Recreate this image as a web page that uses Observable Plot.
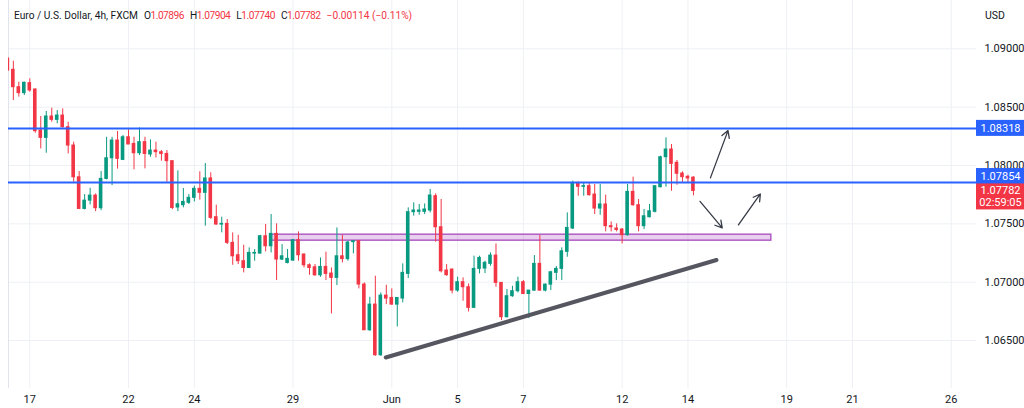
<!DOCTYPE html>
<html><head><meta charset="utf-8">
<script src="https://cdn.jsdelivr.net/npm/d3@7"></script>
<script src="https://cdn.jsdelivr.net/npm/@observablehq/plot@0.6"></script>
<style>
body{margin:0;background:#fff;font-family:Roboto,"Noto Sans",sans-serif;}
#wrap{position:relative;width:1024px;height:408px;overflow:hidden;background:#fff;}
#hdr{position:absolute;left:14px;top:9px;font-size:10.2px;color:#131722;white-space:nowrap;display:flex;gap:6px;line-height:13px;}
#hdr .k{letter-spacing:-0.5px}
#hdr .v{color:#F23645}
#usd{position:absolute;left:985px;top:9px;font-size:10.5px;line-height:13px;color:#131722}
</style></head><body>
<div id="wrap"><div id="chart"></div><div id="hdr"></div><div id="usd">USD</div></div>
<script>
// ---- data (4h candles, index = bar number) ----
const openP = [1.08914,1.08820,1.08671,1.08620,1.08706,1.08651,1.08300,1.08237,1.08420,1.08391,
1.08428,1.08328,1.08171,1.07899,1.07628,1.07699,1.07742,1.07634,1.07885,1.08062,
1.08214,1.08048,1.08242,1.08185,1.08105,1.08200,1.08094,1.08128,1.08114,1.08099,
1.08037,1.07640,1.07660,1.07680,1.07723,1.07800,1.07766,1.07889,1.07557,1.07494,
1.07500,1.07337,1.07231,1.07180,1.07122,1.07245,1.07245,1.07394,1.07308,1.07414,
1.07194,1.07165,1.07185,1.07360,1.07237,1.07145,1.07128,1.07059,1.07131,1.07074,
1.07037,1.07222,1.07198,1.07343,1.07351,1.06980,1.06588,1.06808,1.06374,1.06885,
1.06865,1.06808,1.06860,1.07071,1.07600,1.07603,1.07603,1.07614,1.07737,1.07471,
1.07100,1.07108,1.06928,1.07000,1.06957,1.06780,1.07114,1.07117,1.07157,1.07228,
1.06994,1.06700,1.06880,1.06923,1.07000,1.06899,1.06928,1.07157,1.06928,1.06979,
1.07080,1.07114,1.07260,1.07460,1.07851,1.07817,1.07823,1.07751,1.07631,1.07666,
1.07480,1.07460,1.07451,1.07403,1.07774,1.07660,1.07480,1.07557,1.07603,1.07814,
1.08071,1.08137,1.08023,1.07931,1.07903,1.07896];
const highP = [1.08928,1.08894,1.08714,1.08714,1.08743,1.08657,1.08420,1.08463,1.08491,1.08471,
1.08485,1.08371,1.08200,1.07948,1.07751,1.07805,1.07756,1.07948,1.08242,1.08242,
1.08291,1.08257,1.08305,1.08242,1.08322,1.08242,1.08220,1.08200,1.08128,1.08128,
1.08042,1.07954,1.07803,1.07751,1.07823,1.07946,1.08017,1.07937,1.07660,1.07557,
1.07537,1.07423,1.07402,1.07317,1.07294,1.07280,1.07402,1.07494,1.07580,1.07500,
1.07322,1.07280,1.07366,1.07431,1.07242,1.07157,1.07151,1.07208,1.07257,1.07122,
1.07465,1.07402,1.07351,1.07357,1.07357,1.06994,1.06871,1.07051,1.06908,1.06974,
1.06943,1.06865,1.07157,1.07637,1.07680,1.07666,1.07671,1.07794,1.07757,1.07709,
1.07151,1.07114,1.07043,1.07037,1.06985,1.07223,1.07223,1.07180,1.07251,1.07328,
1.06994,1.06937,1.06965,1.07043,1.07014,1.06928,1.07228,1.07400,1.06985,1.07094,
1.07134,1.07294,1.07594,1.07866,1.07857,1.07851,1.07851,1.07837,1.07837,1.07746,
1.07517,1.07500,1.07460,1.07837,1.07900,1.07708,1.07623,1.07666,1.07823,1.08080,
1.08237,1.08180,1.08043,1.07946,1.07917,1.07904];
const lowP = [1.08805,1.08557,1.08586,1.08600,1.08628,1.08277,1.08142,1.08105,1.08371,1.08357,
1.08322,1.08099,1.07856,1.07622,1.07619,1.07662,1.07605,1.07613,1.07877,1.07828,
1.07969,1.08042,1.08180,1.07963,1.08085,1.07971,1.08071,1.08065,1.08037,1.07856,
1.07622,1.07605,1.07637,1.07666,1.07688,1.07703,1.07480,1.07537,1.07488,1.07423,
1.07323,1.07145,1.07151,1.07080,1.07117,1.07180,1.07242,1.07260,1.07251,1.07014,
1.07185,1.07157,1.07180,1.07180,1.07122,1.07059,1.07051,1.07042,1.07014,1.06728,
1.06971,1.07165,1.07180,1.07243,1.06943,1.06588,1.06579,1.06365,1.06365,1.06808,
1.06802,1.06617,1.06823,1.07031,1.07566,1.07574,1.07580,1.07594,1.07343,1.07080,
1.07051,1.06900,1.06914,1.06837,1.06745,1.06780,1.07071,1.07074,1.07137,1.06957,
1.06671,1.06694,1.06871,1.06908,1.06894,1.06688,1.06922,1.06922,1.06917,1.06928,
1.07014,1.07014,1.07214,1.07451,1.07737,1.07737,1.07737,1.07580,1.07574,1.07431,
1.07431,1.07431,1.07328,1.07394,1.07651,1.07431,1.07451,1.07551,1.07594,1.07808,
1.07814,1.07780,1.07831,1.07857,1.07851,1.07740];
const closeP = [1.08814,1.08671,1.08620,1.08709,1.08643,1.08294,1.08237,1.08420,1.08391,1.08428,
1.08328,1.08171,1.07899,1.07628,1.07699,1.07742,1.07634,1.07885,1.08062,1.08214,
1.08057,1.08242,1.08180,1.08105,1.08200,1.08099,1.08128,1.08114,1.08099,1.08037,
1.07636,1.07668,1.07688,1.07723,1.07800,1.07766,1.07889,1.07551,1.07494,1.07500,
1.07337,1.07222,1.07180,1.07122,1.07251,1.07251,1.07394,1.07308,1.07414,1.07194,
1.07222,1.07200,1.07360,1.07231,1.07145,1.07122,1.07059,1.07131,1.07071,1.07037,
1.07222,1.07198,1.07340,1.07351,1.06980,1.06588,1.06808,1.06374,1.06885,1.06860,
1.06808,1.06865,1.07080,1.07600,1.07614,1.07614,1.07623,1.07743,1.07471,1.07094,
1.07060,1.06928,1.07000,1.06957,1.06780,1.07114,1.07208,1.07166,1.07228,1.06994,
1.06700,1.06880,1.06923,1.07000,1.06899,1.06928,1.07157,1.06928,1.06979,1.07085,
1.07114,1.07265,1.07465,1.07851,1.07817,1.07823,1.07746,1.07631,1.07666,1.07480,
1.07471,1.07448,1.07403,1.07774,1.07660,1.07480,1.07565,1.07608,1.07823,1.08071,
1.08137,1.08014,1.07929,1.07900,1.07889,1.07782];

// x-axis: bar index where each day starts, and its label
const dayTicks  = [4, 22, 34, 52, 70, 82, 94, 112, 124, 142, 154, 172];
const dayLabels = ["17","22","24","29","Jun","5","7","12","14","19","21","26"];
// price axis ticks
const priceTicks = [1.09, 1.085, 1.08, 1.075, 1.07, 1.065];
// horizontal levels
const levels = [1.08318, 1.07854];
// support zone (bar index range, price range)
const zoneI = [47.9, 139.2];
const zoneP = [1.07356, 1.07407];
// rising trend line
const trendI = [68.9, 129.2];
const trendP = [1.06355, 1.07190];
// arrows: start/end (bar index, price)
const arrowI1 = [128.1, 126.2, 133.2];
const arrowP1 = [1.07894, 1.07693, 1.07491];
const arrowI2 = [131.3, 130.25, 137.2];
const arrowP2 = [1.08299, 1.07465, 1.07756];
// price scale labels
const tagPrices = [1.08318, 1.07854, 1.07782];
const lastClose = 1.07782;
const countdown = "02:59:05";
// header
const title = "Euro / U.S. Dollar, 4h, FXCM";
const ohlcKeys = ["O","H","L","C"];
const ohlcVals = ["1.07896","1.07904","1.07740","1.07782"];
const change = "\u22120.00114 (\u22120.11%)";

// ---- build ----
const bars = openP.map((o, i) => ({i, o, h: highP[i], l: lowP[i], c: closeP[i]}));
const ups = bars.filter(d => d.c >= d.o);
const downs = bars.filter(d => d.c < d.o);
const zone = [{i1: zoneI[0], i2: zoneI[1], p1: zoneP[0], p2: zoneP[1]}];
const trend = trendI.map((i, k) => ({i, p: trendP[k]}));
const arrows = arrowI1.map((d, k) => ({i1: d, p1: arrowP1[k], i2: arrowI2[k], p2: arrowP2[k]}));
const labelMap = new Map(dayTicks.map((d, k) => [d, dayLabels[k]]));

const GREEN = "#089981", RED = "#F23645", BLUE = "#2962FF";
const W = 1024, H = 408, ML = 8, MR = 48, MT = 0, MB = 20;
const plotW = W - ML - MR;
const xDomain = [0.117, 176.61];
const yDomain = [1.060891, 1.094139];
const tagFill = [BLUE, BLUE, RED];
const tagDy = [0, -6, 0];
const tagTop = [8, 8, 7];
const tagBottom = [8, 8, 19];

const candleMarks = (data, color) => [
  Plot.ruleX(data, {x: "i", y1: "l", y2: "h", stroke: color, strokeWidth: 1, clip: true}),
  Plot.rect(data, {x1: d => d.i - 0.33, x2: d => d.i + 0.33,
    y1: d => Math.min(d.o, d.c), y2: d => Math.max(d.o, d.c),
    fill: color, insetTop: -0.5, insetBottom: -0.5, clip: true})
];

const tagMarks = tagPrices.flatMap((p, k) => [
  Plot.rect([p], {y1: d => d, y2: d => d, fill: tagFill[k],
    insetLeft: plotW, insetRight: -MR, insetTop: -tagTop[k] + tagDy[k], insetBottom: -tagBottom[k] - tagDy[k]}),
  Plot.text([p], {y: d => d, text: d => d.toFixed(5), frameAnchor: "right", dx: 24, dy: tagDy[k],
    fill: "white", fontSize: 11, textAnchor: "middle"})
]);

const plot = Plot.plot({
  width: W, height: H,
  marginLeft: ML, marginRight: MR, marginTop: MT, marginBottom: MB,
  style: {fontFamily: "Roboto, 'Noto Sans', sans-serif", fontSize: "11px", color: "#131722", background: "#fff"},
  x: {type: "linear", domain: xDomain},
  y: {type: "linear", domain: yDomain},
  marks: [
    Plot.gridX(dayTicks, {stroke: "#eef0f5", strokeOpacity: 1}),
    Plot.gridY(priceTicks, {stroke: "#eef0f5", strokeOpacity: 1}),
    Plot.ruleX([xDomain[0]], {stroke: "#e0e3eb"}),
    Plot.rect(zone, {x1: "i1", x2: "i2", y1: "p1", y2: "p2", fill: "#9C27B0", fillOpacity: 0.22, stroke: "#B05CC4", strokeWidth: 1.5}),
    ...candleMarks(ups, GREEN),
    ...candleMarks(downs, RED),
    Plot.ruleY(levels, {stroke: BLUE, strokeWidth: 2}),
    Plot.line(trend, {x: "i", y: "p", stroke: "#55565f", strokeWidth: 4, strokeLinecap: "round"}),
    Plot.arrow(arrows, {x1: "i1", y1: "p1", x2: "i2", y2: "p2", stroke: "#363a45", strokeWidth: 1.3, headLength: 9}),
    Plot.axisX(dayTicks, {tickSize: 0, tickPadding: 7, tickFormat: d => labelMap.get(d)}),
    Plot.axisY(priceTicks, {anchor: "right", tickSize: 0, tickPadding: 8, tickFormat: d3.format(".5f")}),
    ...tagMarks,
    Plot.text([lastClose], {y: d => d, text: () => countdown, frameAnchor: "right", dx: 24, dy: 12,
      fill: "white", fontSize: 11, textAnchor: "middle"})
  ]
});
document.getElementById("chart").appendChild(plot);

const hdr = document.getElementById("hdr");
const t = document.createElement("span"); t.textContent = title; hdr.appendChild(t);
ohlcKeys.forEach((k, j) => {
  const s = document.createElement("span");
  s.className = "k";
  s.innerHTML = k + '<span class="v">' + ohlcVals[j] + '</span>';
  hdr.appendChild(s);
});
const ch = document.createElement("span"); ch.className = "v"; ch.textContent = change; hdr.appendChild(ch);
</script>
</body></html>
